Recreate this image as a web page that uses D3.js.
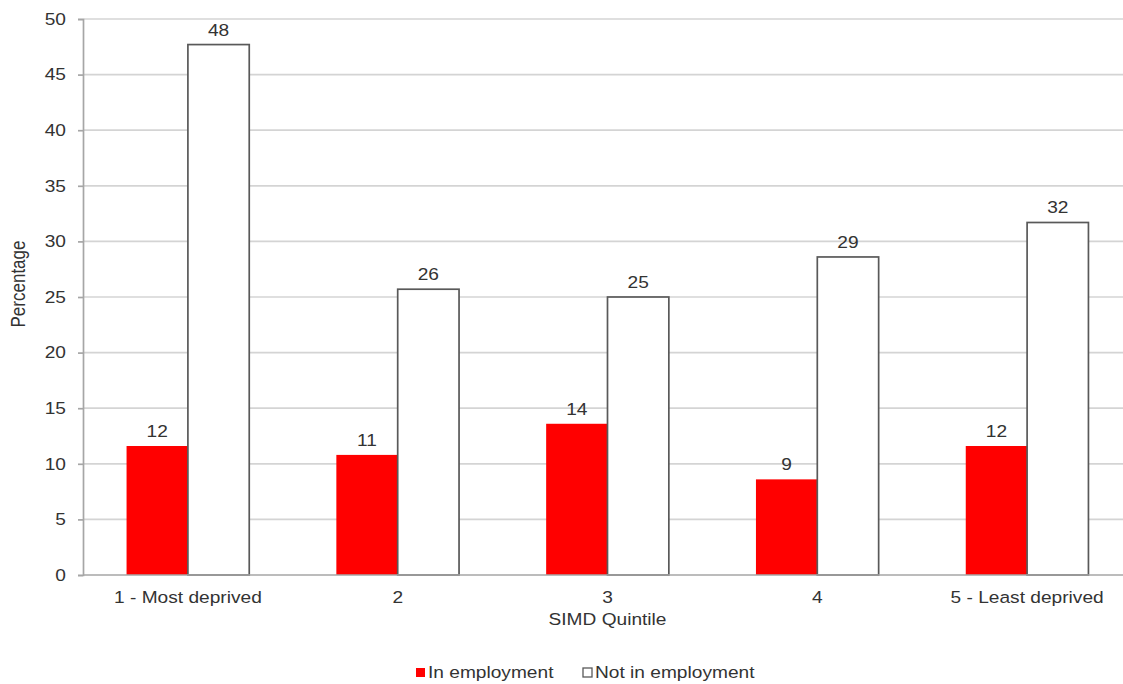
<!DOCTYPE html>
<html>
<head>
<meta charset="utf-8">
<script src="https://cdn.jsdelivr.net/npm/d3@7"></script>
<style>
  html, body { margin: 0; padding: 0; background: #fff; }
  svg { display: block; font-family: "Liberation Sans", Arial, sans-serif; }
</style>
</head>
<body>
<svg id="chart" width="1123" height="684"></svg>
<script>
// SIMD quintiles and percentages by employment status
const categories = ["1 - Most deprived", "2", "3", "4", "5 - Least deprived"];
const seriesNames = ["In employment", "Not in employment"];
const inEmployment = [11.6, 10.8, 13.6, 8.6, 11.6];
const notInEmployment = [47.7, 25.7, 25.0, 28.6, 31.7];
const yTicks = [0, 5, 10, 15, 20, 25, 30, 35, 40, 45, 50];

const fills = ["#ff0000", "#ffffff"];
const strokes = ["none", "#595959"];
const textColor = "#333333";
const fontSize = "16.5px";
const WIDEN = 1.16; // horizontal widening of the label type

const svg = d3.select("#chart");
const margin = { left: 83, right: -9, top: 19, bottom: 109 };
const W = 1123, H = 684;
const x0 = margin.left, x1 = W - margin.right;
const yTop = margin.top, yBot = H - margin.bottom;

const x = d3.scaleBand().domain(categories).range([x0, x1]).paddingInner(0).paddingOuter(0);
const xs = d3.scaleBand().domain(seriesNames).range([0, x.bandwidth()]).paddingInner(0).paddingOuter(0.71);
const y = d3.scaleLinear().domain([0, 50]).range([yBot, yTop]);

// move a text's x/y into a transform so the glyphs can be widened about their anchor
function widen(sel) {
  sel.each(function () {
    const t = d3.select(this);
    const tx = +t.attr("x") || 0, ty = +t.attr("y") || 0;
    t.attr("x", 0).attr("y", 0)
     .attr("transform", `translate(${tx},${ty}) scale(${WIDEN},1)`);
  });
}

// horizontal gridlines
svg.append("g")
  .selectAll("line")
  .data(yTicks.filter(t => t > 0))
  .join("line")
  .attr("x1", x0).attr("x2", x1)
  .attr("y1", d => y(d)).attr("y2", d => y(d))
  .attr("stroke", "#d4d4d4").attr("stroke-width", 1.7);

// y axis
const yAxis = svg.append("g")
  .attr("transform", `translate(${x0},0)`)
  .call(d3.axisLeft(y).tickValues(yTicks).tickSize(5).tickPadding(12));
yAxis.select(".domain").attr("stroke", "#a6a6a6").attr("stroke-width", 1.7);
yAxis.selectAll(".tick line").attr("stroke", "#a6a6a6").attr("stroke-width", 1.7);
yAxis.selectAll(".tick text")
  .attr("fill", textColor).style("font-size", fontSize)
  .style("font-family", "'Liberation Sans', Arial, sans-serif")
  .call(widen);

// bars
const rows = categories.map((c, i) => ({ cat: c, vals: [inEmployment[i], notInEmployment[i]] }));
const groups = svg.append("g").selectAll("g")
  .data(rows).join("g")
  .attr("transform", d => `translate(${x(d.cat)},0)`);

groups.selectAll("rect")
  .data(d => d.vals.map((v, k) => ({ k, v })))
  .join("rect")
  .attr("x", d => xs(seriesNames[d.k]))
  .attr("width", xs.bandwidth())
  .attr("y", d => y(d.v))
  .attr("height", d => y(0) - y(d.v))
  .attr("fill", d => fills[d.k])
  .attr("stroke", d => strokes[d.k])
  .attr("stroke-width", 1.7);

// value labels
groups.selectAll("text")
  .data(d => d.vals.map((v, k) => ({ k, v })))
  .join("text")
  .attr("x", d => xs(seriesNames[d.k]) + xs.bandwidth() / 2)
  .attr("y", d => y(d.v) - 9)
  .attr("text-anchor", "middle")
  .attr("fill", textColor)
  .style("font-size", fontSize)
  .text(d => d3.format(".0f")(d.v))
  .call(widen);

// x axis baseline
svg.append("line")
  .attr("x1", x0).attr("x2", x1)
  .attr("y1", y(0)).attr("y2", y(0))
  .attr("stroke", "#a6a6a6").attr("stroke-width", 1.7);

// category labels
svg.append("g").selectAll("text")
  .data(categories).join("text")
  .attr("x", d => x(d) + x.bandwidth() / 2)
  .attr("y", y(0) + 28)
  .attr("text-anchor", "middle")
  .attr("fill", textColor)
  .style("font-size", fontSize)
  .text(d => d)
  .call(widen);

// axis titles
svg.append("text")
  .attr("x", x(categories[2]) + x.bandwidth() / 2)
  .attr("y", 625)
  .attr("text-anchor", "middle")
  .attr("fill", textColor)
  .style("font-size", fontSize)
  .text("SIMD Quintile")
  .call(widen);

svg.append("text")
  .attr("transform", `translate(25,${284}) rotate(-90) scale(1,${WIDEN})`)
  .attr("text-anchor", "middle")
  .attr("fill", textColor)
  .style("font-size", "17px")
  .text("Percentage");

// legend
const legend = svg.append("g");
const legendItems = [{ name: seriesNames[0], x: 416 }, { name: seriesNames[1], x: 583 }];
legendItems.forEach((it, k) => {
  legend.append("rect")
    .attr("x", it.x).attr("y", 668)
    .attr("width", 9).attr("height", 9)
    .attr("fill", fills[k])
    .attr("stroke", k === 1 ? "#595959" : "none")
    .attr("stroke-width", 1.3);
  legend.append("text")
    .attr("x", it.x + 12).attr("y", 678)
    .attr("fill", textColor)
    .style("font-size", fontSize)
    .text(it.name)
    .call(widen);
});
</script>
</body>
</html>
